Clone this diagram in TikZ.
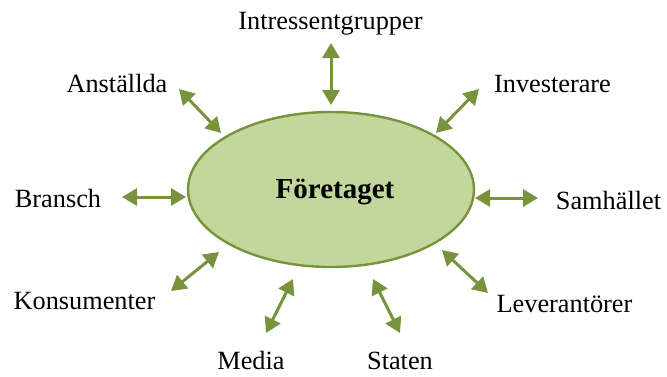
\documentclass[tikz,border=0pt]{standalone}
\usepackage{fontspec}
\setmainfont{Liberation Serif}
\usetikzlibrary{shapes.geometric,arrows.meta}
\definecolor{ringgreen}{HTML}{77933C}
\definecolor{fillgreen}{HTML}{C3D69B}
\tikzset{
  lbl/.style={anchor=base,inner sep=0pt,font=\fontsize{26.3}{31}\selectfont},
  link/.style={draw=ringgreen,line width=3pt,
    {Triangle[width=17pt,length=15pt]}-{Triangle[width=17pt,length=15pt]}},
}
\begin{document}
\begin{tikzpicture}[x=1pt,y=-1pt]
\useasboundingbox (0,0) rectangle (667,376);
\node[ellipse,draw=ringgreen,line width=2.4pt,fill=fillgreen,minimum width=286pt,minimum height=155pt,inner sep=0pt] (f) at (331,189.5) {};
\node[anchor=base,inner sep=0pt,font=\fontsize{29}{34}\selectfont\bfseries] (ft) at (335,198) {Företaget};
\node[lbl] (intr) at (330.5,29) {Intressentgrupper};
\node[lbl] (anst) at (117,92) {Anställda};
\node[lbl] (inv) at (552.5,92) {Investerare};
\node[lbl] (bra) at (58,207) {Bransch};
\node[lbl] (sam) at (608.5,209) {Samhället};
\node[lbl] (kon) at (84.5,309) {Konsumenter};
\node[lbl] (lev) at (564.5,312) {Leverantörer};
\node[lbl] (med) at (251,369.5) {Media};
\node[lbl] (sta) at (400,369.5) {Staten};
% arrow end points
\coordinate (a1) at (331,43);   \coordinate (b1) at (331,105);
\coordinate (a2) at (179,89);   \coordinate (b2) at (221,133);
\coordinate (a3) at (479,89);   \coordinate (b3) at (436,133);
\coordinate (a4) at (122,197);  \coordinate (b4) at (186,197);
\coordinate (a5) at (538,198);  \coordinate (b5) at (475,198);
\coordinate (a6) at (171,291);  \coordinate (b6) at (219,252);
\coordinate (a7) at (488,293);  \coordinate (b7) at (442,250);
\coordinate (a8) at (266,333);  \coordinate (b8) at (293,279);
\coordinate (a9) at (400,333);  \coordinate (b9) at (373,279);
\foreach \i in {1,...,9} { \path[link] (a\i) -- (b\i); }
\end{tikzpicture}
\end{document}
